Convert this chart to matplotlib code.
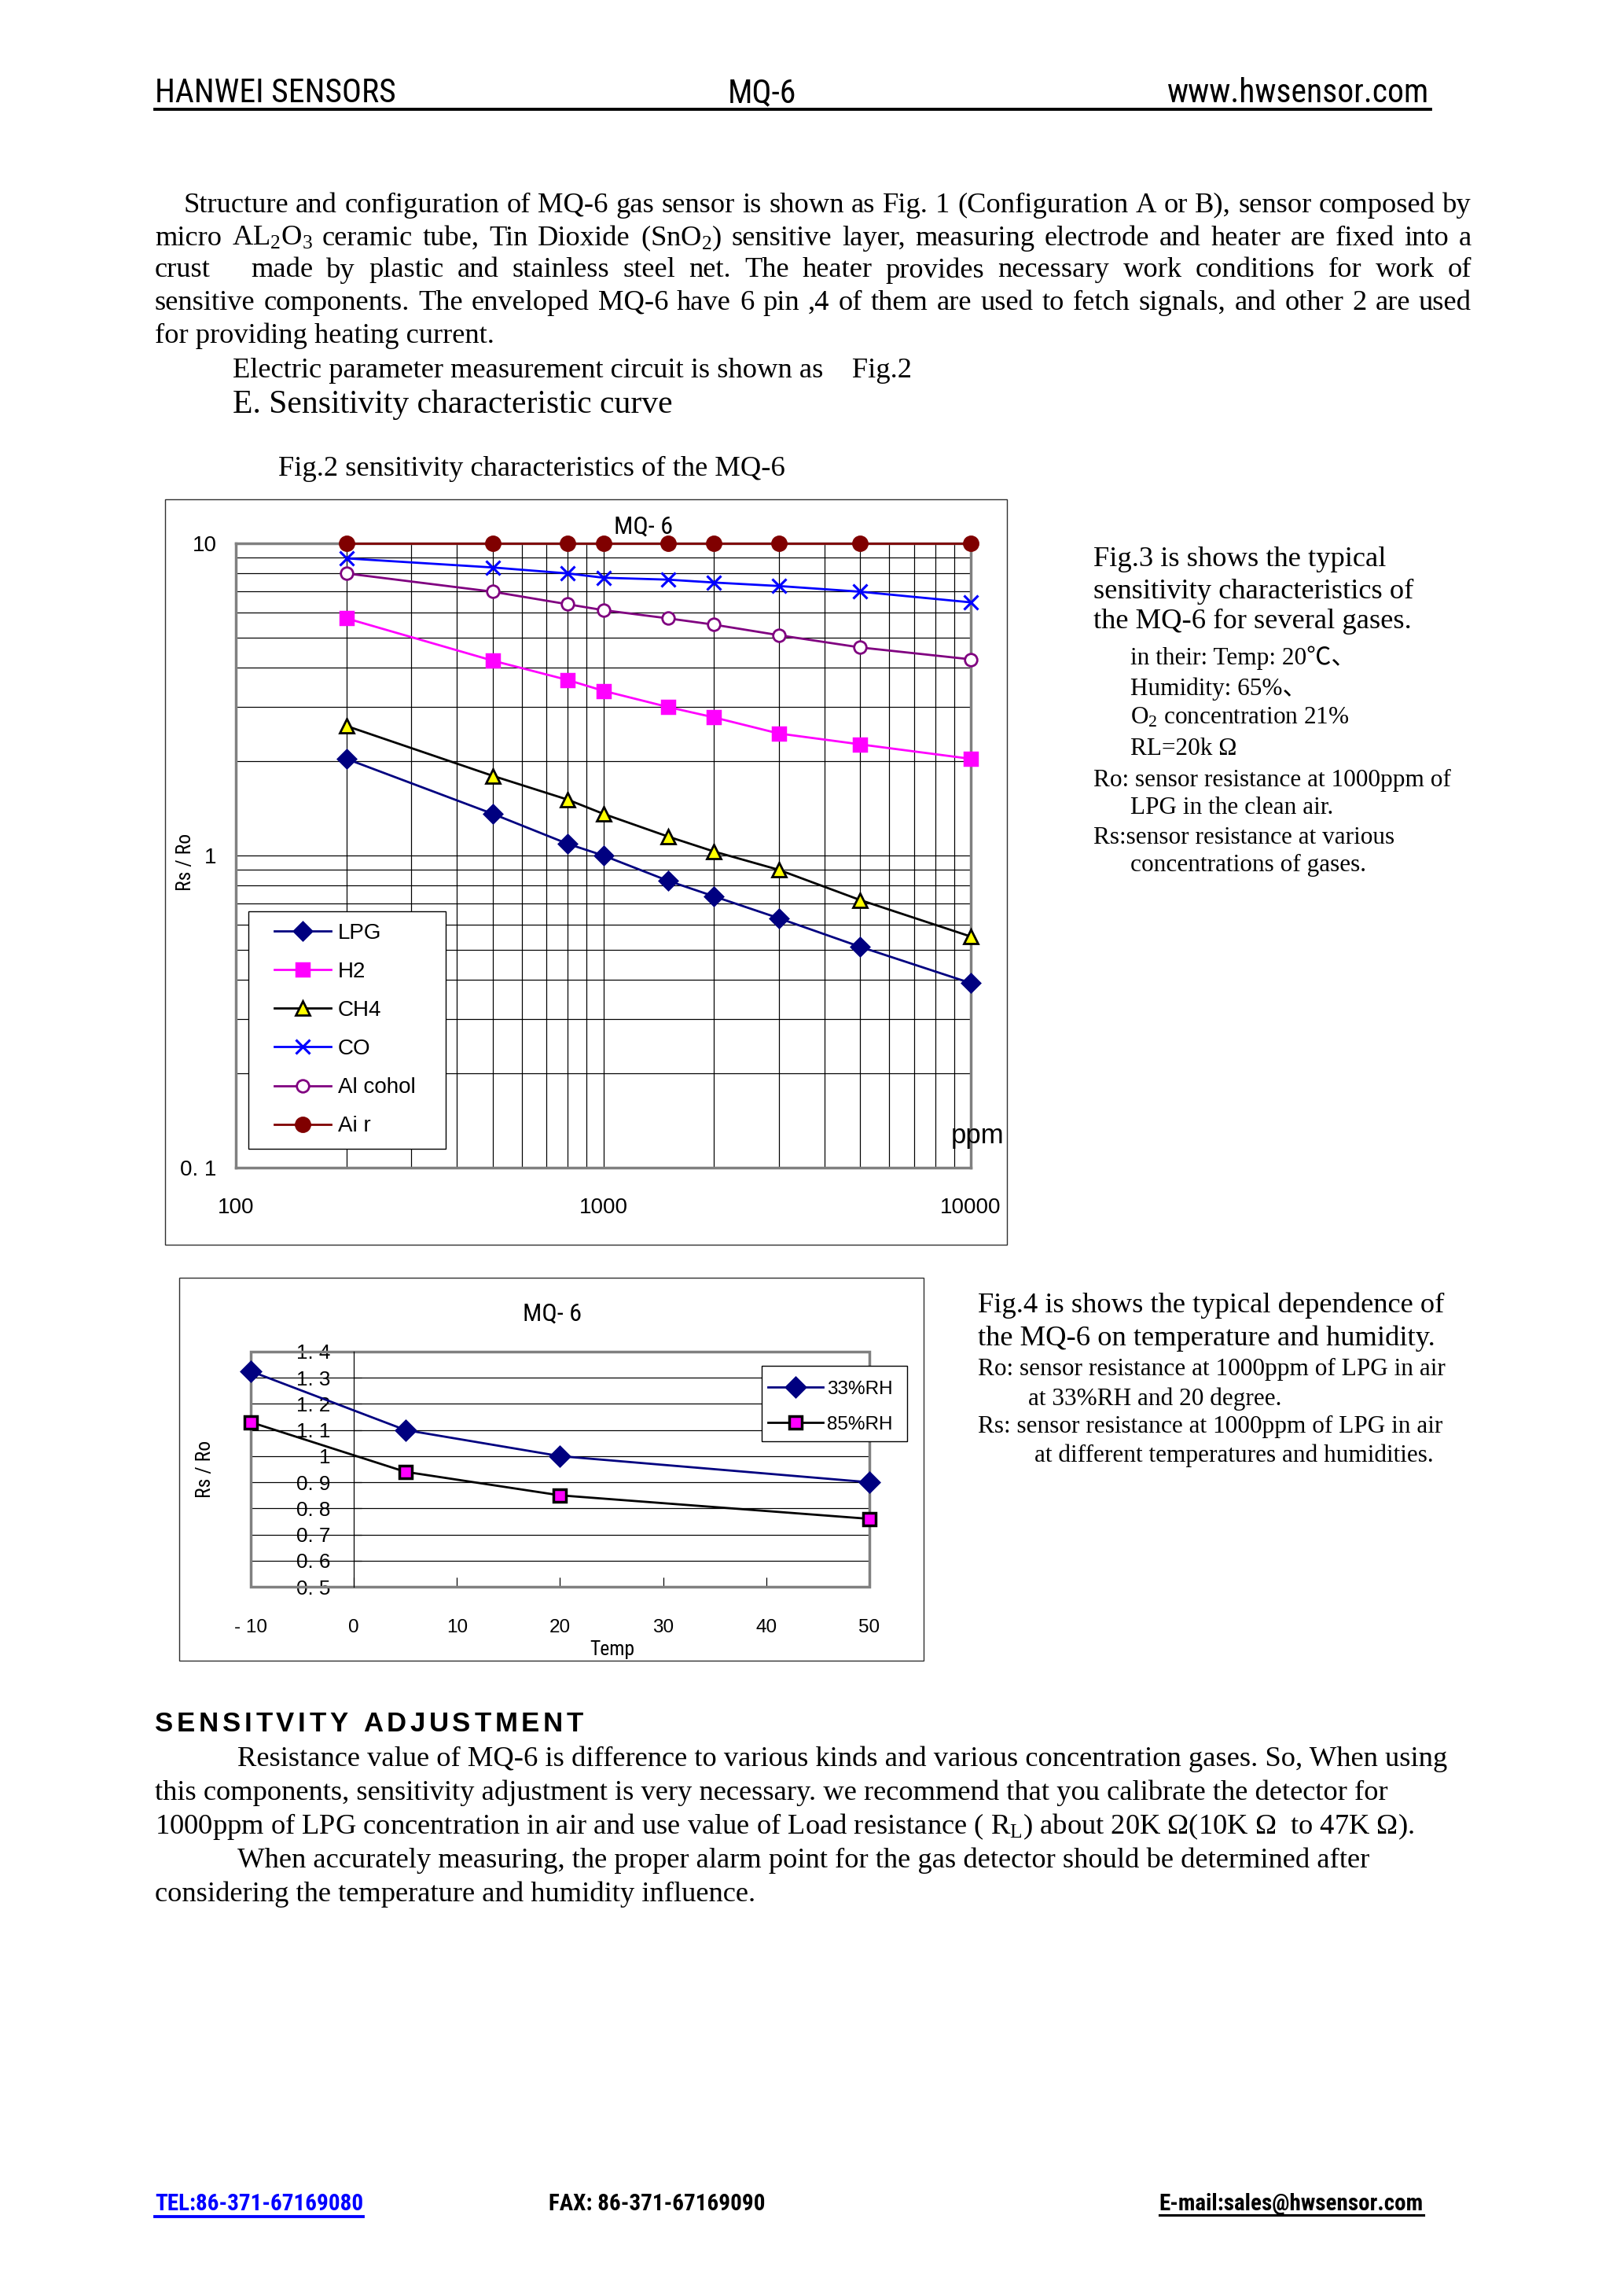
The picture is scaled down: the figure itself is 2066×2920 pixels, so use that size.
import matplotlib
matplotlib.use("Agg")
import matplotlib.pyplot as plt
from matplotlib import font_manager
from matplotlib.patches import Rectangle
from matplotlib.lines import Line2D
from matplotlib.ticker import NullFormatter

W, H, DPI = 2066, 2920, 250

# Fig.3: Rs/Ro against gas concentration (ppm), log-log
PPM = [200, 500, 800, 1000, 1500, 2000, 3000, 5000, 10000]
LPG = [2.04, 1.36, 1.09, 1.00, 0.83, 0.74, 0.63, 0.51, 0.39]
H2 = [5.75, 4.21, 3.65, 3.37, 2.99, 2.77, 2.46, 2.27, 2.04]
CH4 = [2.60, 1.80, 1.51, 1.36, 1.15, 1.03, 0.90, 0.72, 0.55]
CO = [8.95, 8.37, 8.01, 7.76, 7.65, 7.49, 7.30, 7.00, 6.47]
ALCOHOL = [8.01, 7.00, 6.38, 6.11, 5.75, 5.49, 5.08, 4.64, 4.25]
AIR = [10, 10, 10, 10, 10, 10, 10, 10, 10]
GAS_NAMES = ["LPG", "H2", "CH4", "CO", "Al cohol", "Ai r"]

X1_TICKS = [100, 1000, 10000]
X1_LABELS = ["100", "1000", "10000"]
Y1_TICKS = [0.1, 1, 10]
Y1_LABELS = ["0. 1", "1", "10"]

# Fig.4: Rs/Ro against temperature for two humidities
TEMP = [-10, 5, 20, 50]
RH33 = [1.325, 1.10, 1.00, 0.90]
RH85 = [1.13, 0.94, 0.85, 0.76]
RH_NAMES = ["33%RH", "85%RH"]

X2_TICKS = [-10, 0, 10, 20, 30, 40, 50]
X2_LABELS = ["- 10", "0", "10", "20", "30", "40", "50"]
Y2_TICKS = [0.5, 0.6, 0.7, 0.8, 0.9, 1.0, 1.1, 1.2, 1.3, 1.4]
Y2_LABELS = ["0. 5", "0. 6", "0. 7", "0. 8", "0. 9", "1", "1. 1", "1. 2", "1. 3", "1. 4"]

PARA1 = [
    "Structure and configuration of MQ-6 gas sensor is shown as Fig. 1 (Configuration A or B), sensor composed by",
    "micro AL$_2$O$_3$ ceramic tube, Tin Dioxide (SnO$_2$) sensitive layer, measuring electrode and heater are fixed into a",
    "crust   made by plastic and stainless steel net. The heater provides necessary work conditions for work of",
    "sensitive components. The enveloped MQ-6 have 6 pin ,4 of them are used to fetch signals, and other 2 are used",
]
PARA1_LAST = "for providing heating current."

FIG3_NOTE = [
    (1391, 712, 10.5, "Fig.3 is shows the typical"),
    (1391, 752, 10.5, "sensitivity characteristics of"),
    (1391, 790, 10.5, "the MQ-6 for several gases."),
    (1438, 837, 9, "in their: Temp: 20℃、"),
    (1438, 876, 9, "Humidity: 65%、"),
    (1438, 913, 9, "O$_2$ concentration 21%"),
    (1438, 952, 9, "RL=20k Ω"),
    (1391, 992, 9, "Ro: sensor resistance at 1000ppm of"),
    (1438, 1028, 9, "LPG in the clean air."),
    (1391, 1065, 9, "Rs:sensor resistance at various"),
    (1438, 1100, 9, "concentrations of gases."),
]

FIG4_NOTE = [
    (1244, 1660, 10.5, "Fig.4 is shows the typical dependence of"),
    (1244, 1702, 10.5, "the MQ-6 on temperature and humidity."),
    (1244, 1741, 9, "Ro: sensor resistance at 1000ppm of LPG in air"),
    (1308, 1779, 9, "at 33%RH and 20 degree."),
    (1244, 1814, 9, "Rs: sensor resistance at 1000ppm of LPG in air"),
    (1316, 1851, 9, "at different temperatures and humidities."),
]

ADJUST = [
    (302, 2237, "Resistance value of MQ-6 is difference to various kinds and various concentration gases. So, When using"),
    (197, 2280, "this components, sensitivity adjustment is very necessary. we recommend that you calibrate the detector for"),
    (197, 2323, "1000ppm of LPG concentration in air and use value of Load resistance ( R$_{\\mathrm{L}}$) about 20K Ω(10K Ω  to 47K Ω)."),
    (302, 2366, "When accurately measuring, the proper alarm point for the gas detector should be determined after"),
    (197, 2409, "considering the temperature and humidity influence."),
]

# narrow sans face if one is installed, otherwise shrink the regular one
FONTS = {f.name for f in font_manager.fontManager.ttflist}
SANS = "Liberation Sans"
NARROW, NS = SANS, 0.82
for name, scale in [("Liberation Sans Narrow", 1.0), ("Roboto Condensed", 1.0)]:
    if name in FONTS:
        NARROW, NS = name, scale
        break
SERIF = "Liberation Serif"
SERIF_CJK = ["Liberation Serif", "Noto Sans CJK SC"]

plt.rcParams["mathtext.fontset"] = "custom"
plt.rcParams["mathtext.rm"] = SERIF
plt.rcParams["mathtext.it"] = SERIF + ":italic"
plt.rcParams["mathtext.bf"] = SERIF + ":bold"

fig = plt.figure(figsize=(W / DPI, H / DPI), dpi=DPI)
fig.patch.set_facecolor("white")
renderer = fig.canvas.get_renderer()


def fx(x):
    return x / W


def fy(y):
    return 1 - y / H


def put(x, y, s, size=10.5, family=SERIF, ha="left", va="center", **kw):
    return fig.text(fx(x), fy(y), s, fontsize=size, family=family, ha=ha, va=va, **kw)


def width(t):
    return t.get_window_extent(renderer).width


def justified(x0, x1, y, line, size=10.5):
    words = line.split(" ")
    texts = [put(x0, y, w, size) for w in words]
    ws = [width(t) for t in texts]
    gap = (x1 - x0 - sum(ws)) / (len(words) - 1)
    x = x0
    for t, w in zip(texts, ws):
        t.set_x(fx(x))
        x += w + gap


def tracked(x, y, s, size, track, **kw):
    for ch in s:
        if ch == " ":
            x += 0.278 * size * DPI / 72 + track
            continue
        t = put(x, y, ch, size, **kw)
        x += width(t) + track


def hline(x0, x1, y, lw, color="black"):
    fig.add_artist(Line2D([fx(x0), fx(x1)], [fy(y), fy(y)], lw=lw, color=color))


def box(l, t, r, b):
    return [fx(l), fy(b), (r - l) / W, (b - t) / H]


def frame(l, t, r, b, lw=0.4, ec="#303030", fc="none", z=1):
    fig.add_artist(Rectangle((fx(l), fy(b)), (r - l) / W, (b - t) / H,
                             transform=fig.transFigure, lw=lw, ec=ec, fc=fc, zorder=z))


# header
put(197, 119, "HANWEI SENSORS", 12 * NS, NARROW)
put(969, 119, "MQ-6", 12 * NS, NARROW, ha="center")
put(1818, 119, "www.hwsensor.com", 12 * NS, NARROW, ha="right")
hline(197, 1820, 139, 1.1)

# first paragraph
para_y = [261, 303, 344, 385]
justified(233, 1872, para_y[0], PARA1[0])
for y, line in zip(para_y[1:], PARA1[1:]):
    justified(197, 1872, y, line)
put(197, 427, PARA1_LAST)
put(296, 471, "Electric parameter measurement circuit is shown as    Fig.2")
put(296, 515, "E. Sensitivity characteristic curve", 12)
put(354, 596, "Fig.2 sensitivity characteristics of the MQ-6")

# ---- Fig.3 chart
frame(210, 635, 1281, 1583)
ax1 = fig.add_axes(box(300, 691, 1235, 1485))
ax1.set_xscale("log")
ax1.set_yscale("log")
ax1.set_xlim(100, 10000)
ax1.set_ylim(0.1, 10)
ax1.grid(True, which="both", color="black", lw=0.35)
for sp in ax1.spines.values():
    sp.set_color("#808080")
    sp.set_linewidth(1.0)
ax1.set_xticks(X1_TICKS, X1_LABELS)
ax1.set_yticks(Y1_TICKS, Y1_LABELS)
ax1.xaxis.set_minor_formatter(NullFormatter())
ax1.yaxis.set_minor_formatter(NullFormatter())
ax1.tick_params(which="both", length=0)
ax1.tick_params(axis="x", pad=11, labelsize=8)
ax1.tick_params(axis="y", pad=7, labelsize=8)
for lab in ax1.get_xticklabels() + ax1.get_yticklabels():
    lab.set_family(SANS)

gas_styles = [
    dict(color="#000080", marker="D", ms=4.5, mfc="#000080", mec="#000080"),
    dict(color="#ff00ff", marker="s", ms=4.5, mfc="#ff00ff", mec="#ff00ff"),
    dict(color="black", marker="^", ms=5, mfc="#ffff00", mec="black", mew=0.8),
    dict(color="#0000ff", marker="x", ms=5, mew=0.9),
    dict(color="#800080", marker="o", ms=4.5, mfc="white", mec="#800080", mew=0.8),
    dict(color="#800000", marker="o", ms=5, mfc="#800000", mec="#800000"),
]
for vals, name, st in zip([LPG, H2, CH4, CO, ALCOHOL, AIR], GAS_NAMES, gas_styles):
    ax1.plot(PPM, vals, lw=0.8, label=name, clip_on=False, zorder=3, **st)

put(819, 670, "MQ- 6", 9.3 * NS, NARROW, ha="center")
put(236, 1096, "Rs / Ro", 7.4 * NS, NARROW, ha="center", rotation=90)
put(1244, 1445, "ppm", 10, SANS, ha="center")

frame(316, 1159, 567, 1461, lw=0.4, ec="black", fc="white", z=2)
h1, l1 = ax1.get_legend_handles_labels()
fig.legend(h1, l1, loc="upper left", bbox_to_anchor=(fx(349), fy(1174)), frameon=False,
           borderpad=0, borderaxespad=0, handlelength=2.6, handletextpad=0.32,
           labelspacing=0.83, numpoints=1, prop={"family": SANS, "size": 8})

for x, y, s, t in FIG3_NOTE:
    put(x, y, t, s, SERIF if "$" in t else SERIF_CJK)

# ---- Fig.4 chart
frame(228, 1625, 1175, 2112)
ax2 = fig.add_axes(box(319, 1719, 1106, 2018))
ax2.set_xlim(-10, 50)
ax2.set_ylim(0.5, 1.4)
ax2.set_xticks(X2_TICKS, X2_LABELS)
ax2.set_yticks(Y2_TICKS, Y2_LABELS)
ax2.yaxis.grid(True, color="black", lw=0.35)
for sp in ax2.spines.values():
    sp.set_visible(False)
ax2.spines["left"].set_visible(True)
ax2.spines["left"].set_position(("data", 0))
ax2.spines["left"].set_color("black")
ax2.spines["left"].set_linewidth(0.35)
ax2.add_patch(Rectangle((0, 0), 1, 1, transform=ax2.transAxes, fill=False,
                        ec="#808080", lw=1.0, clip_on=False, zorder=2.5))
ax2.tick_params(axis="x", direction="in", length=3.5, width=0.35, pad=11.7, labelsize=7)
ax2.tick_params(axis="y", direction="in", length=3, width=0.35, pad=8.5, labelsize=7.5)
for lab in ax2.get_xticklabels() + ax2.get_yticklabels():
    lab.set_family(SANS)

ax2.plot(TEMP, RH33, color="#000080", lw=0.8, marker="D", ms=5, mfc="#000080",
         mec="#000080", label=RH_NAMES[0], clip_on=False, zorder=3)
ax2.plot(TEMP, RH85, color="black", lw=0.8, marker="s", ms=4.5, mfc="#ff00ff",
         mec="black", mew=1.0, label=RH_NAMES[1], clip_on=False, zorder=3)

put(703, 1671, "MQ- 6", 9.3 * NS, NARROW, ha="center")
put(261, 1868, "Rs / Ro", 7.4 * NS, NARROW, ha="center", rotation=90)
put(779, 2098, "Temp", 7.4 * NS, NARROW, ha="center")

frame(969, 1737, 1154, 1833, lw=0.4, ec="black", fc="white", z=2)
h2, l2 = ax2.get_legend_handles_labels()
fig.legend(h2, l2, loc="upper left", bbox_to_anchor=(fx(977), fy(1755.5)), frameon=False,
           borderpad=0, borderaxespad=0, handlelength=2.9, handletextpad=0.2,
           labelspacing=0.95, numpoints=1, prop={"family": SANS, "size": 7})

for x, y, s, t in FIG4_NOTE:
    put(x, y, t, s)

# sensitivity adjustment
tracked(197, 2192, "SENSITVITY ADJUSTMENT", 10, 4.7, family=SANS, weight="bold")
for x, y, t in ADJUST:
    put(x, y, t)

# footer
tel = put(197, 2803, "TEL:86-371-67169080", 8.4 * NS, NARROW, weight="bold", color="#0000ff")
put(698, 2803, "FAX: 86-371-67169090", 8.4 * NS, NARROW, weight="bold")
mail = put(1811, 2803, "E-mail:sales@hwsensor.com", 8.4 * NS, NARROW, ha="right", weight="bold")
hline(197, 197 + width(tel), 2819, 1.1, "#0000ff")
hline(1811 - width(mail), 1811, 2817, 0.9)

fig.savefig("out.png", dpi=DPI)
